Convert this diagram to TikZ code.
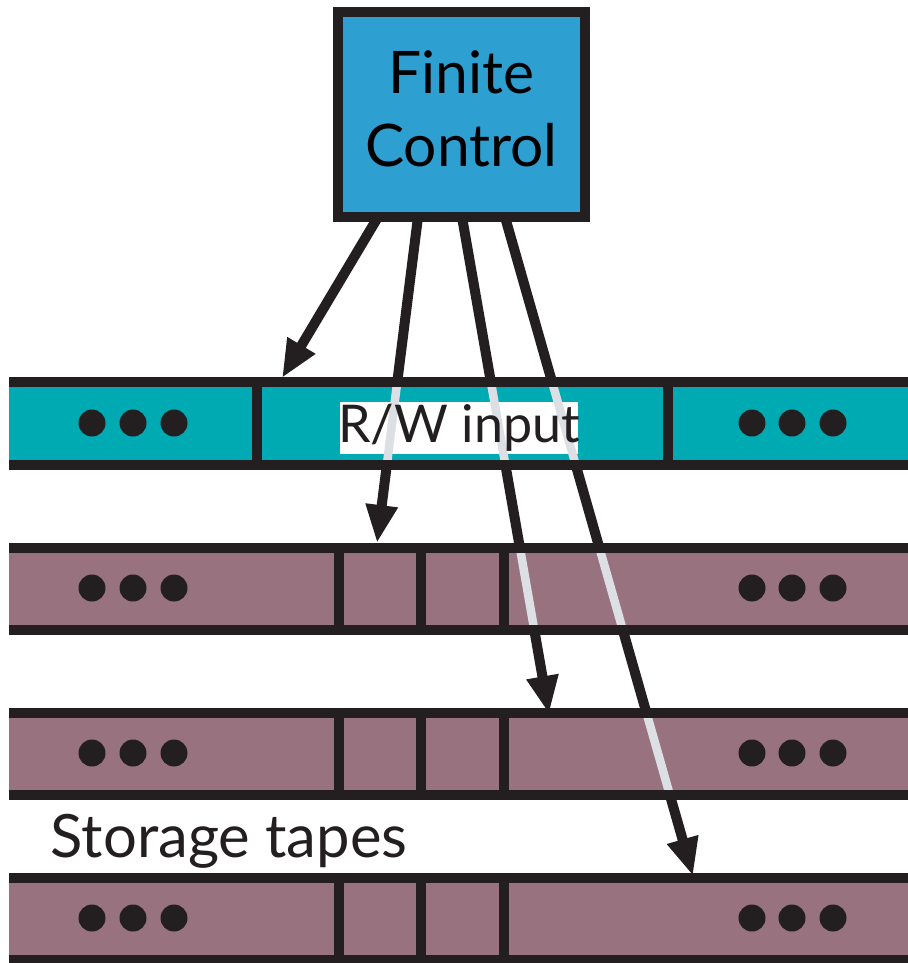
\documentclass[tikz,border=0pt]{standalone}
\usepackage{fontspec}
\setmainfont{Lato}
\usetikzlibrary{arrows.meta,positioning,calc}

\definecolor{ctrlblue}{HTML}{2E9FD1}
\definecolor{inputteal}{HTML}{00AAB2}
\definecolor{storemauve}{HTML}{98737F}
\definecolor{inkblack}{HTML}{231F20}
\definecolor{shadegray}{HTML}{DCDFE3}

\begin{document}
\begin{tikzpicture}[
    x=0.1mm,y=-0.1mm,
    ctrl/.style={rectangle,draw=inkblack,fill=ctrlblue,line width=1mm,minimum width=24.7mm,minimum height=20.5mm,align=center,text depth=1.2mm,font=\fontsize{16.7}{20.8}\selectfont},
    tapetext/.style={inner sep=0,text=inkblack,font=\fontsize{14.8}{18}\selectfont},
    arrow/.style={-{Triangle[length=3.8mm,width=3mm]},line width=1mm,draw=inkblack},
    tapeline/.style={line width=1mm,draw=inkblack},
    ghost/.style={line width=0.85mm,draw=shadegray},
    dot/.style={circle,fill=inkblack,inner sep=0,minimum size=2.7mm}
    ]

    \useasboundingbox (0,0) rectangle (907,963);

    \node[ctrl] (control) at (461.5,114.5) {Finite\\Control};

    % where the heads leave the control and where they land
    \coordinate (s1) at (378,217); \coordinate (t1) at (282,378);
    \coordinate (s2) at (418,217); \coordinate (t2) at (377,543);
    \coordinate (s3) at (462,217); \coordinate (t3) at (549,714);
    \coordinate (s4) at (505,217); \coordinate (t4) at (693,876);

    \draw[arrow] (s1)--(t1);
    \draw[arrow] (s2)--(t2);
    \draw[arrow] (s3)--(t3);
    \draw[arrow] (s4)--(t4);

    % tape bodies
    \fill[inputteal] (9,382) rectangle (920,465);
    \fill[storemauve] (9,548) rectangle (920,630);
    \fill[storemauve] (9,713) rectangle (920,795);
    \fill[storemauve] (9,878) rectangle (920,960);

    \node[fill=white,inner sep=0,minimum width=23.8mm,minimum height=5.2mm] (rwbox) at (459,428) {};

    % heads seen through the tapes
    \begin{scope}
      \clip (9,387) rectangle (920,460) (9,553) rectangle (920,625) (9,718) rectangle (920,790);
      \draw[ghost] (s2)--(t2) (s3)--(t3) (s4)--(t4);
    \end{scope}

    \node[tapetext] (rwlabel) at (rwbox) {R/W input};
    \node[tapetext,anchor=base west,font=\fontsize{17}{21}\selectfont] (storage) at (50,857) {Storage tapes};

    % tape edges and cell walls
    \draw[tapeline] (9,382)--(920,382) (9,465)--(920,465) (257,382)--(257,465) (668,382)--(668,465);
    \foreach \y in {548,713,878}
      \draw[tapeline] (9,\y)--(920,\y) (9,\y+82)--(920,\y+82)
        (339,\y)--(339,\y+82) (421,\y)--(421,\y+82) (504,\y)--(504,\y+82);

    \foreach \y in {423,588,753,918}
      \foreach \x in {92,133,174,752,792,833}
        \node[dot] (dot\x-\y) at (\x,\y) {};

  \end{tikzpicture}
\end{document}
